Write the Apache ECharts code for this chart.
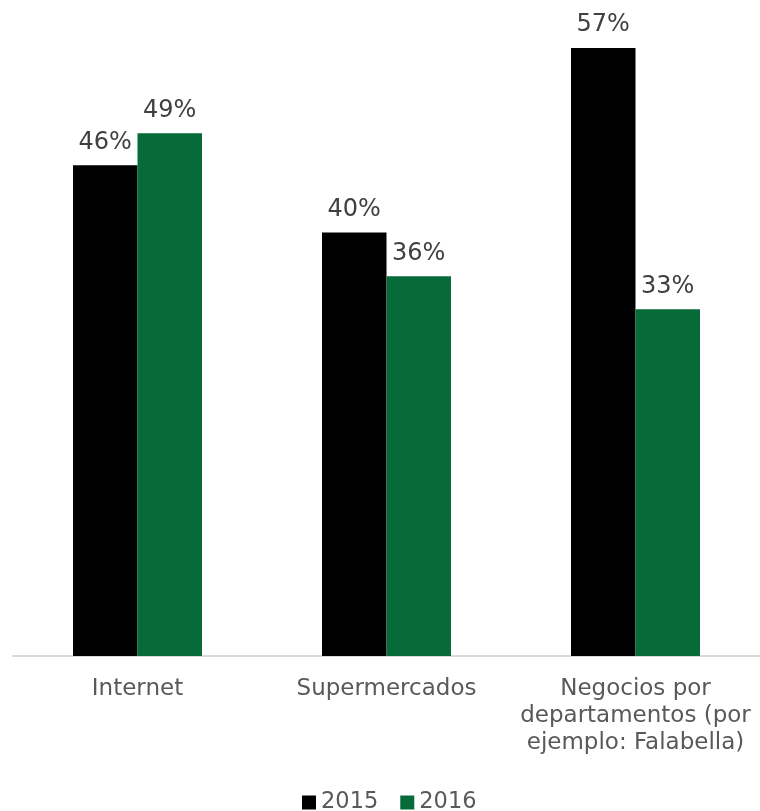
<!DOCTYPE html>
<html>
<head>
<meta charset="utf-8">
<script src="https://cdn.jsdelivr.net/npm/echarts@6/dist/echarts.min.js"></script>
<style>
html,body{margin:0;padding:0;background:#fff;}
#chart{width:760px;height:811px;}
</style>
</head>
<body>
<div id="chart"></div>
<script>
const categories = ['Internet', 'Supermercados', 'Negocios por\ndepartamentos (por\nejemplo: Falabella)'];
const seriesNames = ['2015', '2016'];
const values2015 = [46, 39.7, 57];
const values2016 = [49, 35.6, 32.5];
const colors = ['#000000', '#066b38'];

const chart = echarts.init(document.getElementById('chart'));
const labelCfg = {
  show: true,
  position: 'top',
  distance: 11,
  fontFamily: 'DejaVu Sans',
  fontSize: 24,
  color: '#404040',
  formatter: p => Math.round(p.value) + '%'
};
chart.setOption({
  animation: false,
  backgroundColor: '#fff',
  grid: { left: 13, right: 0, top: 16, bottom: 155, containLabel: false },
  legend: {
    data: seriesNames,
    left: 297,
    top: 786,
    itemWidth: 14,
    itemHeight: 14,
    itemGap: 22,
    icon: 'rect',
    textStyle: { fontFamily: 'DejaVu Sans', fontSize: 22.5, color: '#595959' }
  },
  xAxis: {
    type: 'category',
    data: categories,
    axisLine: { lineStyle: { color: '#d9d9d9', width: 2 } },
    axisTick: { show: false },
    axisLabel: {
      interval: 0,
      margin: 20,
      fontFamily: 'DejaVu Sans',
      fontSize: 23,
      lineHeight: 27,
      color: '#595959'
    }
  },
  yAxis: {
    type: 'value',
    min: 0,
    max: 60,
    show: false,
    splitLine: { show: false }
  },
  series: [
    { name: seriesNames[0], type: 'bar', data: values2015, barWidth: 64.5, barGap: '0%',
      itemStyle: { color: colors[0] }, label: labelCfg },
    { name: seriesNames[1], type: 'bar', data: values2016, barWidth: 64.5, barGap: '0%',
      itemStyle: { color: colors[1] }, label: labelCfg }
  ]
});
</script>
</body>
</html>
